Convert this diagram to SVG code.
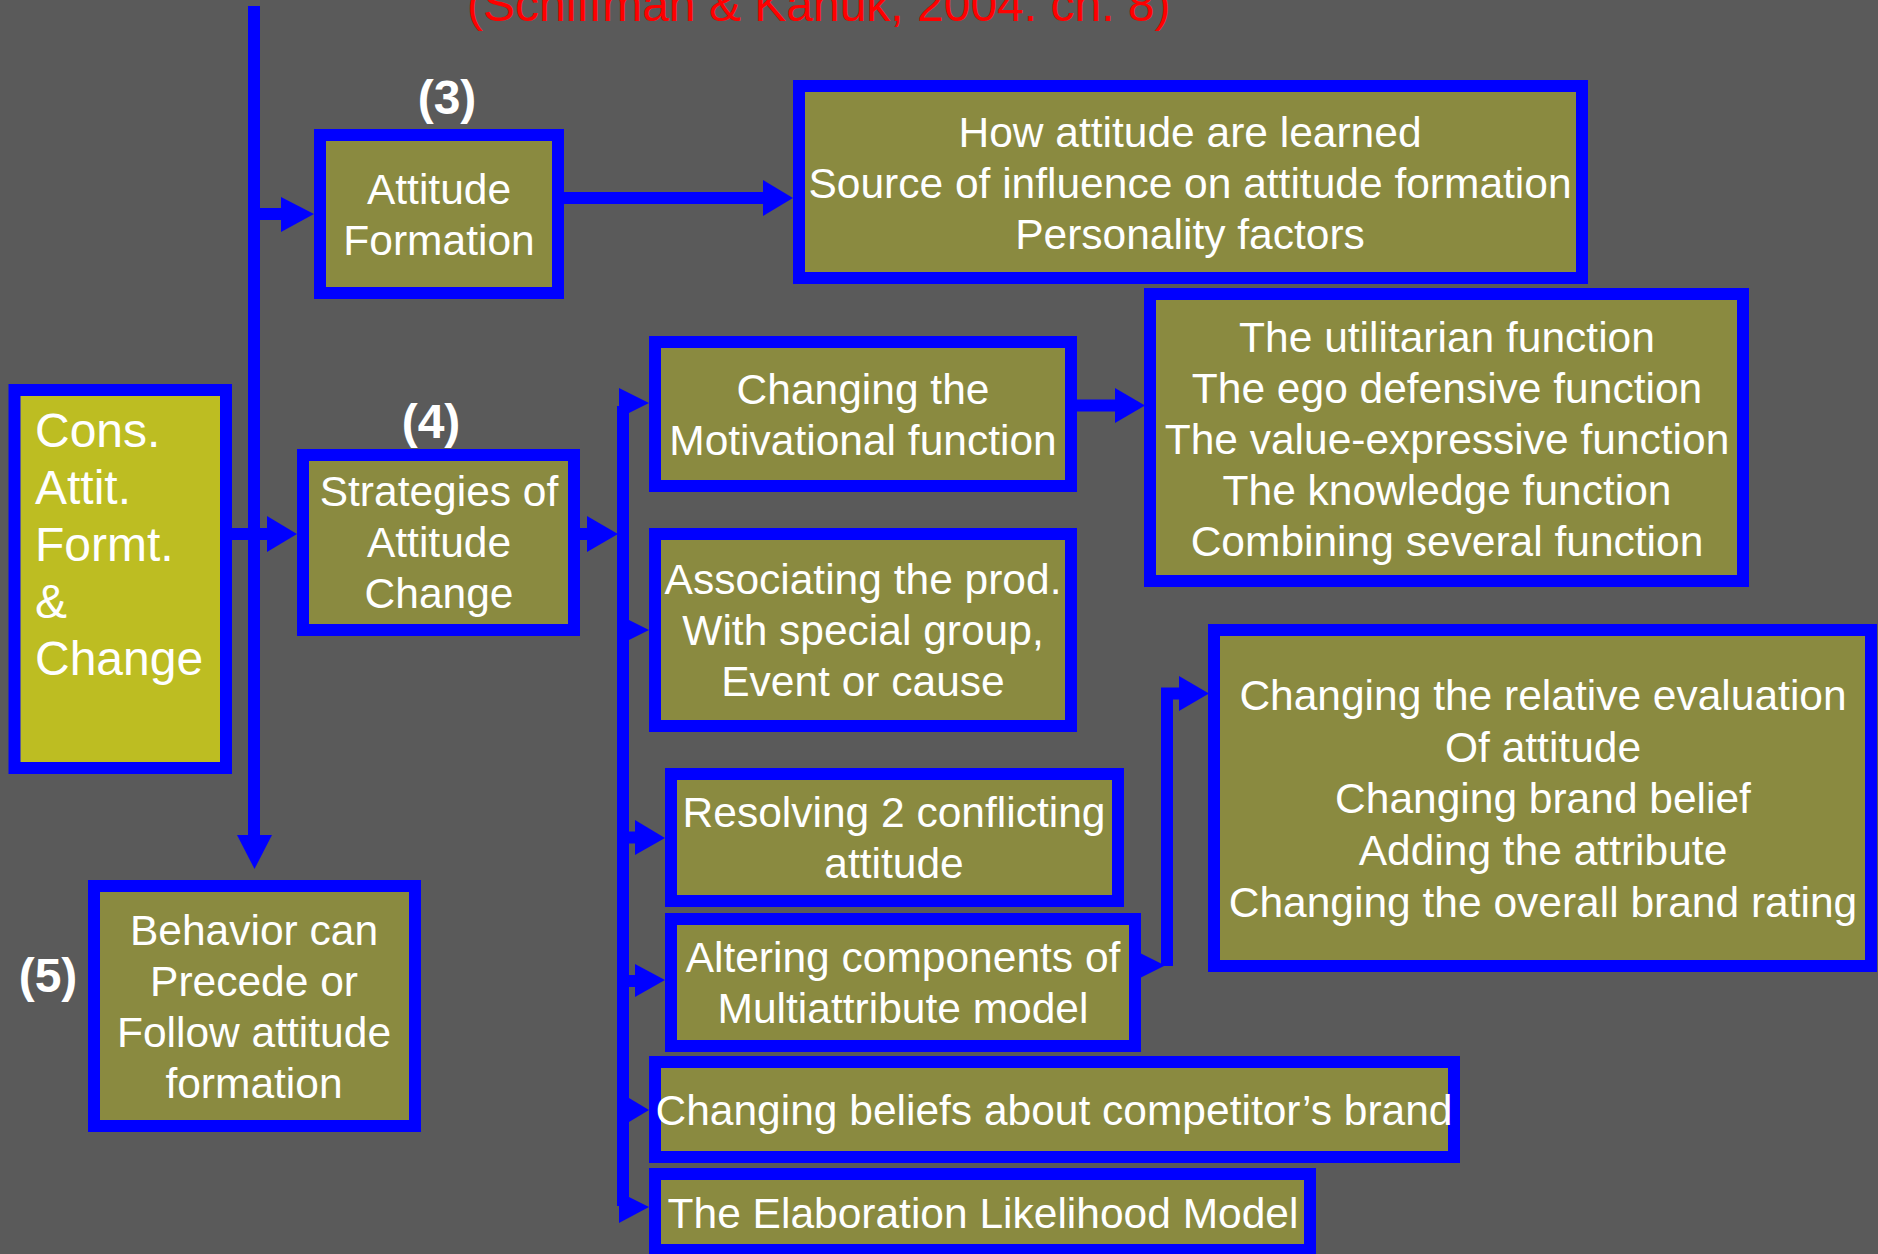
<svg xmlns="http://www.w3.org/2000/svg" width="1878" height="1254" viewBox="0 0 1878 1254">
<defs>
<style>
.box{fill:#8a8a40;stroke:#0000ff;stroke-width:12;stroke-linejoin:miter}
.main{fill:#bdbd22;stroke:#0000ff;stroke-width:12;stroke-linejoin:miter}
.t{font-family:"Liberation Sans",Arial,sans-serif;font-size:42.5px;fill:#ffffff;text-anchor:middle}
.tl{font-family:"Liberation Sans",Arial,sans-serif;font-size:48px;fill:#ffffff}
.lab{font-family:"Liberation Sans",Arial,sans-serif;font-size:48px;font-weight:bold;fill:#ffffff;text-anchor:middle}
.ln{fill:none;stroke:#0000ff;stroke-width:12;stroke-linejoin:miter;stroke-linecap:butt}
.ah{fill:#0000ff;stroke:none}
</style>
</defs>
<rect x="0" y="0" width="1878" height="1254" fill="#5a5a5a"/>
<text x="467" y="21" style="font-family:'Liberation Sans',Arial,sans-serif;font-size:48px;fill:#ff0000">(Schiffman &amp; Kanuk, 2004: ch. 8)</text>

<g id="connectors">
<path class="ln" d="M254,6 V836"/>
<polygon class="ah" points="237,835 272,835 254.5,869"/>
<path class="ln" d="M254,214 H283"/>
<polygon class="ah" points="281,197 281,232 314,214"/>
<path class="ln" d="M564,198 H765"/>
<polygon class="ah" points="763,180 763,216 793,198"/>
<path class="ln" d="M232,534 H269"/>
<polygon class="ah" points="267,516 267,552 297,534"/>
<path class="ln" d="M580,534 H589"/>
<polygon class="ah" points="587,516 587,552 618,534"/>
<path class="ln" d="M623,406 V1206"/>
<polygon class="ah" points="619,388 649,403 619,418"/>
<polygon class="ah" points="619,615 649,630 619,645"/>
<path class="ln" d="M623,837.5 H637"/>
<polygon class="ah" points="635,820 665,838 635,855"/>
<path class="ln" d="M623,981 H637"/>
<polygon class="ah" points="635,964 665,980 635,997"/>
<polygon class="ah" points="619,1092 649,1110 619,1128"/>
<polygon class="ah" points="619,1192 649,1207 619,1223"/>
<path class="ln" d="M1077,405.5 H1117"/>
<polygon class="ah" points="1115,388 1115,423 1145,405.5"/>
<polygon class="ah" points="1140,953 1165,965.5 1140,978"/>
<path class="ln" d="M1167,966 V693.5 H1181"/>
<polygon class="ah" points="1179,676 1209,693.5 1179,711"/>
</g>

<g id="label3"><text class="lab" x="447" y="114">(3)</text></g>
<g id="label4"><text class="lab" x="431" y="438">(4)</text></g>
<g id="label5"><text class="lab" x="48" y="992">(5)</text></g>

<g id="cons">
<rect class="main" x="14.5" y="390" width="211.5" height="378"/>
<text class="tl" x="35" y="447">Cons.</text>
<text class="tl" x="35" y="504">Attit.</text>
<text class="tl" x="35" y="561">Formt.</text>
<text class="tl" x="35" y="618">&amp;</text>
<text class="tl" x="35" y="675">Change</text>
</g>

<g id="attitude-formation">
<rect class="box" x="320" y="135" width="238" height="158"/>
<text class="t" x="439" y="204">Attitude</text>
<text class="t" x="439" y="255">Formation</text>
</g>

<g id="how-learned">
<rect class="box" x="799" y="86" width="783" height="192"/>
<text class="t" x="1190" y="147">How attitude are learned</text>
<text class="t" x="1190" y="198">Source of influence on attitude formation</text>
<text class="t" x="1190" y="249">Personality factors</text>
</g>

<g id="strategies">
<rect class="box" x="303" y="455" width="271" height="175"/>
<text class="t" x="439" y="506">Strategies of</text>
<text class="t" x="439" y="557">Attitude</text>
<text class="t" x="439" y="608">Change</text>
</g>

<g id="behavior">
<rect class="box" x="94" y="886" width="321" height="240"/>
<text class="t" x="254" y="945">Behavior can</text>
<text class="t" x="254" y="996">Precede or</text>
<text class="t" x="254" y="1047">Follow attitude</text>
<text class="t" x="254" y="1098">formation</text>
</g>

<g id="motivational">
<rect class="box" x="655" y="342" width="416" height="144"/>
<text class="t" x="863" y="404">Changing the</text>
<text class="t" x="863" y="455">Motivational function</text>
</g>

<g id="functions">
<rect class="box" x="1150" y="294" width="593" height="287"/>
<text class="t" x="1447" y="352">The utilitarian function</text>
<text class="t" x="1447" y="403">The ego defensive function</text>
<text class="t" x="1447" y="454">The value-expressive function</text>
<text class="t" x="1447" y="505">The knowledge function</text>
<text class="t" x="1447" y="556">Combining several function</text>
</g>

<g id="associating">
<rect class="box" x="655" y="534" width="416" height="192"/>
<text class="t" x="863" y="594">Associating the prod.</text>
<text class="t" x="863" y="645">With special group,</text>
<text class="t" x="863" y="696">Event or cause</text>
</g>

<g id="resolving">
<rect class="box" x="671" y="774" width="447" height="127"/>
<text class="t" x="894" y="827">Resolving 2 conflicting</text>
<text class="t" x="894" y="878">attitude</text>
</g>

<g id="altering">
<rect class="box" x="671" y="919" width="464" height="127"/>
<text class="t" x="903" y="972">Altering components of</text>
<text class="t" x="903" y="1023">Multiattribute model</text>
</g>

<g id="relative">
<rect class="box" x="1214" y="630" width="657" height="336"/>
<text class="t" x="1543" y="710">Changing the relative evaluation</text>
<text class="t" x="1543" y="762">Of attitude</text>
<text class="t" x="1543" y="813">Changing brand belief</text>
<text class="t" x="1543" y="865">Adding the attribute</text>
<text class="t" x="1543" y="917">Changing the overall brand rating</text>
</g>

<g id="competitor">
<rect class="box" x="655" y="1062" width="799" height="95"/>
<text class="t" x="1054" y="1125">Changing beliefs about competitor’s brand</text>
</g>

<g id="elm">
<rect class="box" x="655" y="1174" width="655" height="76"/>
<text class="t" x="983" y="1228">The Elaboration Likelihood Model</text>
</g>
</svg>
